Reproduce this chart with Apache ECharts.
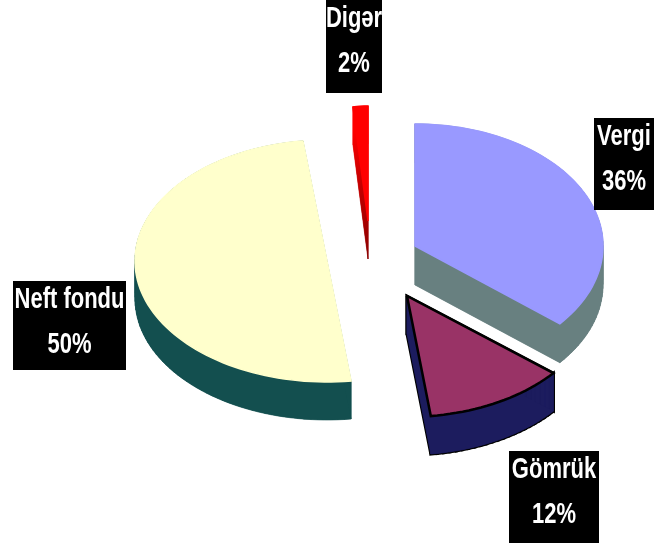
<!DOCTYPE html>
<html>
<head>
<meta charset="utf-8">
<style>html,body{margin:0;padding:0;background:#fff}#c{width:661px;height:544px}</style>
<script src="https://cdn.jsdelivr.net/npm/echarts@6/dist/echarts.min.js"></script>
</head>
<body>
<div id="c"></div>
<script>
// Data, clockwise from 12 o'clock
const categories = ['Vergi', 'Gömrük', 'Neft fondu', 'Digər'];
const shares = [36, 12, 50, 2];

// Colours per slice
const topColors = ['#9999ff', '#993366', '#ffffcc', '#ff0000'];
const wallColors = ['#688080', '#1c1c5e', '#134f4f',
  new echarts.graphic.LinearGradient(0, 130, 0, 259, [
    { offset: 0, color: '#ff0000' }, { offset: 0.35, color: '#cc0000' }, { offset: 1, color: '#8a0000' }
  ], true)];
const outlineColors = [null, '#000000', null, null];

// Exploded slice geometry: centre of the top face, ellipse radii, wall depth
const sliceFrames = [
  { cx: 415, cy: 246, rx: 188, ry: 122, depth: 39 },
  { cx: 407, cy: 296, rx: 190, ry: 121, depth: 38 },
  { cx: 327, cy: 261, rx: 192, ry: 121, depth: 38 },
  { cx: 368, cy: 221, rx: 120, ry: 115, depth: 38 }
];
// Label boxes: left, top, width, height
const labelBoxes = [
  { x: 594, y: 118, w: 60, h: 92 },
  { x: 509, y: 451, w: 90, h: 92 },
  { x: 13, y: 281, w: 113, h: 89 },
  { x: 326, y: 0, w: 56, h: 93 }
];

const total = shares.reduce((a, b) => a + b, 0);
const starts = [];
shares.reduce((acc, v, i) => { starts[i] = acc; return acc + v; }, 0);
const paintOrder = [2, 3, 0, 1];

function outlinePoints(i) {
  const f = sliceFrames[i];
  const a0 = starts[i] / total * 2 * Math.PI;
  const a1 = (starts[i] + shares[i]) / total * 2 * Math.PI;
  const n = Math.max(2, Math.ceil((a1 - a0) / (Math.PI / 90)));
  const pts = [[f.cx, f.cy]];
  for (let k = 0; k <= n; k++) {
    const t = a0 + (a1 - a0) * k / n;
    pts.push([f.cx + f.rx * Math.sin(t), f.cy - f.ry * Math.cos(t)]);
  }
  return pts;
}

function renderSlice(params, api) {
  const i = params.dataIndex;
  const f = sliceFrames[i];
  const value = api.value(0);
  const pts = outlinePoints(i);
  const low = pts.map(p => [p[0], p[1] + f.depth]);
  const quads = pts.map((p, k) => {
    const q = (k + 1) % pts.length;
    return [p, pts[q], low[q], low[k]];
  });
  const children = [];
  const outline = outlineColors[i];
  if (outline) {
    quads.forEach(q => children.push({ type: 'polygon', shape: { points: q },
      style: { fill: outline, stroke: outline, lineWidth: 3 } }));
  }
  quads.forEach(q => children.push({ type: 'polygon', shape: { points: q },
    style: { fill: wallColors[i], stroke: wallColors[i], lineWidth: 0.6 } }));
  children.push({ type: 'polygon', shape: { points: low },
    style: { fill: wallColors[i] } });
  children.push({ type: 'polygon', shape: { points: pts },
    style: { fill: topColors[i], stroke: outline || topColors[i], lineWidth: outline ? 2.5 : 1.5 } });

  const b = labelBoxes[i];
  children.push({ type: 'rect', shape: { x: b.x, y: b.y, width: b.w, height: b.h },
    style: { fill: '#000000' } });
  const font = 'bold 22px "Liberation Sans Narrow", "Liberation Sans", sans-serif';
  [[categories[i], 19], [value + '%', 64]].forEach(([text, off]) => {
    children.push({ type: 'text', x: b.x + b.w / 2, y: b.y + off, scaleY: 1.38,
      style: { x: 0, y: 0, text: text, fill: '#ffffff', font: font,
        align: 'center', verticalAlign: 'middle' } });
  });
  return { type: 'group', children: children };
}

const chart = echarts.init(document.getElementById('c'), null, { renderer: 'canvas' });
chart.setOption({
  animation: false,
  backgroundColor: '#ffffff',
  series: paintOrder.map(idx => ({
    type: 'custom',
    coordinateSystem: 'none',
    silent: true,
    z: 2,
    renderItem: (params, api) => renderSlice({ dataIndex: idx }, api),
    data: [{ name: categories[idx], value: [shares[idx]] }]
  }))
});
</script>
</body>
</html>
